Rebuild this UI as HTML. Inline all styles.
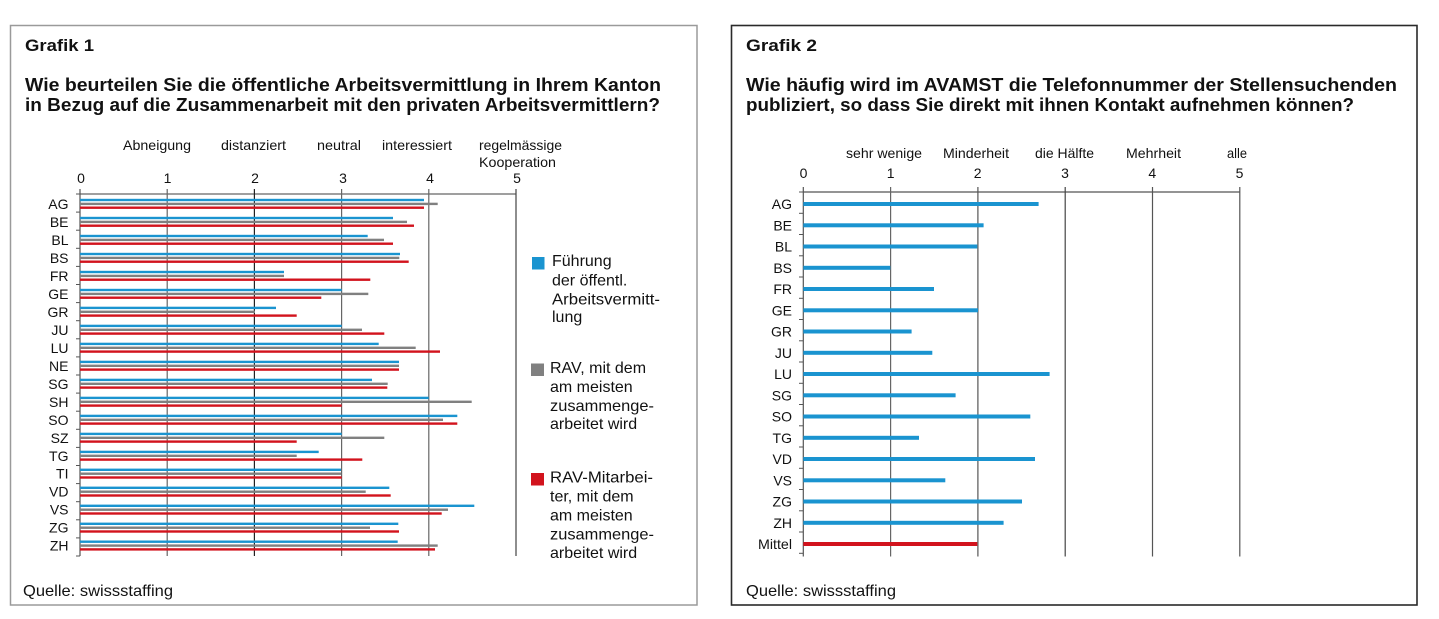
<!DOCTYPE html>
<html><head><meta charset="utf-8"><style>
html,body{margin:0;padding:0;background:#fff;}
svg{display:block;}
text{font-family:"Liberation Sans",Arial,sans-serif;fill:#111;}
.b{font-weight:bold;}
</style></head><body>
<svg width="1439" height="619" viewBox="0 0 1439 619" xmlns="http://www.w3.org/2000/svg">
<rect x="0" y="0" width="1439" height="619" fill="#fff"/>
<!-- Boxes -->
<rect x="10.5" y="25.5" width="686.5" height="579.5" fill="none" stroke="#9a9a9a" stroke-width="1.5"/>
<rect x="731.5" y="25.5" width="685.5" height="579.5" fill="none" stroke="#2a2a2a" stroke-width="1.6"/>

<!-- ===== Grafik 1 ===== -->
<text class="b" x="25" y="51" font-size="17" textLength="69" lengthAdjust="spacingAndGlyphs">Grafik 1</text>
<text class="b" x="25" y="91" font-size="18" textLength="636" lengthAdjust="spacingAndGlyphs">Wie beurteilen Sie die öffentliche Arbeitsvermittlung in Ihrem Kanton</text>
<text class="b" x="25" y="111" font-size="18" textLength="635" lengthAdjust="spacingAndGlyphs">in Bezug auf die Zusammenarbeit mit den privaten Arbeitsvermittlern?</text>

<g font-size="14">
<text x="123" y="150" textLength="68" lengthAdjust="spacingAndGlyphs">Abneigung</text>
<text x="221" y="150" textLength="65" lengthAdjust="spacingAndGlyphs">distanziert</text>
<text x="317" y="150" textLength="44" lengthAdjust="spacingAndGlyphs">neutral</text>
<text x="382" y="150" textLength="70" lengthAdjust="spacingAndGlyphs">interessiert</text>
<text x="479" y="150" textLength="83" lengthAdjust="spacingAndGlyphs">regelmässige</text>
<text x="479" y="167" textLength="77" lengthAdjust="spacingAndGlyphs">Kooperation</text>
</g>
<g font-size="14" text-anchor="middle">
<text x="81" y="183">0</text>
<text x="167.5" y="183">1</text>
<text x="255" y="183">2</text>
<text x="343" y="183">3</text>
<text x="430" y="183">4</text>
<text x="517" y="183">5</text>
</g>

<!-- grid -->
<g stroke-width="1.2">
<line x1="80" y1="194" x2="516" y2="194" stroke="#666"/>
<line x1="80" y1="189" x2="80" y2="556" stroke="#555"/>
<line x1="167.2" y1="189" x2="167.2" y2="556" stroke="#666"/>
<line x1="254.4" y1="189" x2="254.4" y2="556" stroke="#222"/>
<line x1="341.6" y1="189" x2="341.6" y2="556" stroke="#666"/>
<line x1="428.8" y1="189" x2="428.8" y2="556" stroke="#666"/>
<line x1="516" y1="189" x2="516" y2="556" stroke="#444"/>
</g>
<g stroke="#555" stroke-width="1">
<line x1="76" y1="194" x2="80" y2="194"/>
<line x1="76" y1="212.1" x2="80" y2="212.1"/>
<line x1="76" y1="230.2" x2="80" y2="230.2"/>
<line x1="76" y1="248.3" x2="80" y2="248.3"/>
<line x1="76" y1="266.4" x2="80" y2="266.4"/>
<line x1="76" y1="284.5" x2="80" y2="284.5"/>
<line x1="76" y1="302.6" x2="80" y2="302.6"/>
<line x1="76" y1="320.7" x2="80" y2="320.7"/>
<line x1="76" y1="338.8" x2="80" y2="338.8"/>
<line x1="76" y1="356.9" x2="80" y2="356.9"/>
<line x1="76" y1="375" x2="80" y2="375"/>
<line x1="76" y1="393.1" x2="80" y2="393.1"/>
<line x1="76" y1="411.2" x2="80" y2="411.2"/>
<line x1="76" y1="429.3" x2="80" y2="429.3"/>
<line x1="76" y1="447.4" x2="80" y2="447.4"/>
<line x1="76" y1="465.5" x2="80" y2="465.5"/>
<line x1="76" y1="483.6" x2="80" y2="483.6"/>
<line x1="76" y1="501.7" x2="80" y2="501.7"/>
<line x1="76" y1="519.8" x2="80" y2="519.8"/>
<line x1="76" y1="537.9" x2="80" y2="537.9"/>
<line x1="76" y1="556" x2="80" y2="556"/>
</g>

<!-- Bars Grafik 1 -->
<g id="bars1">
<!-- k=0 AG y blue=200 -->
<rect x="80" y="198.8" width="344" height="2.4" fill="#1a94d0"/><rect x="80" y="202.7" width="357.7" height="2.4" fill="#808080"/><rect x="80" y="206.5" width="344" height="2.4" fill="#d2131d"/>
<rect x="80" y="216.8" width="313" height="2.4" fill="#1a94d0"/><rect x="80" y="220.7" width="327" height="2.4" fill="#808080"/><rect x="80" y="224.5" width="334" height="2.4" fill="#d2131d"/>
<rect x="80" y="234.8" width="287.7" height="2.4" fill="#1a94d0"/><rect x="80" y="238.7" width="304" height="2.4" fill="#808080"/><rect x="80" y="242.5" width="313" height="2.4" fill="#d2131d"/>
<rect x="80" y="252.8" width="320" height="2.4" fill="#1a94d0"/><rect x="80" y="256.7" width="319.3" height="2.4" fill="#808080"/><rect x="80" y="260.5" width="328.7" height="2.4" fill="#d2131d"/>
<rect x="80" y="270.8" width="204" height="2.4" fill="#1a94d0"/><rect x="80" y="274.7" width="204" height="2.4" fill="#808080"/><rect x="80" y="278.5" width="290.3" height="2.4" fill="#d2131d"/>
<rect x="80" y="288.8" width="261.7" height="2.4" fill="#1a94d0"/><rect x="80" y="292.7" width="288.3" height="2.4" fill="#808080"/><rect x="80" y="296.5" width="241.3" height="2.4" fill="#d2131d"/>
<rect x="80" y="306.7" width="196" height="2.4" fill="#1a94d0"/><rect x="80" y="310.6" width="175" height="2.4" fill="#808080"/><rect x="80" y="314.4" width="216.7" height="2.4" fill="#d2131d"/>
<rect x="80" y="324.7" width="261.7" height="2.4" fill="#1a94d0"/><rect x="80" y="328.6" width="282" height="2.4" fill="#808080"/><rect x="80" y="332.4" width="304.3" height="2.4" fill="#d2131d"/>
<rect x="80" y="342.7" width="298.7" height="2.4" fill="#1a94d0"/><rect x="80" y="346.6" width="335.7" height="2.4" fill="#808080"/><rect x="80" y="350.4" width="360" height="2.4" fill="#d2131d"/>
<rect x="80" y="360.7" width="319" height="2.4" fill="#1a94d0"/><rect x="80" y="364.6" width="319" height="2.4" fill="#808080"/><rect x="80" y="368.4" width="319" height="2.4" fill="#d2131d"/>
<rect x="80" y="378.7" width="292" height="2.4" fill="#1a94d0"/><rect x="80" y="382.6" width="307.7" height="2.4" fill="#808080"/><rect x="80" y="386.4" width="307.3" height="2.4" fill="#d2131d"/>
<rect x="80" y="396.7" width="348.7" height="2.4" fill="#1a94d0"/><rect x="80" y="400.6" width="391.7" height="2.4" fill="#808080"/><rect x="80" y="404.4" width="261.7" height="2.4" fill="#d2131d"/>
<rect x="80" y="414.7" width="377.3" height="2.4" fill="#1a94d0"/><rect x="80" y="418.6" width="363" height="2.4" fill="#808080"/><rect x="80" y="422.4" width="377.3" height="2.4" fill="#d2131d"/>
<rect x="80" y="432.7" width="261.7" height="2.4" fill="#1a94d0"/><rect x="80" y="436.6" width="304.3" height="2.4" fill="#808080"/><rect x="80" y="440.4" width="216.7" height="2.4" fill="#d2131d"/>
<rect x="80" y="450.7" width="238.7" height="2.4" fill="#1a94d0"/><rect x="80" y="454.6" width="216.7" height="2.4" fill="#808080"/><rect x="80" y="458.4" width="282.3" height="2.4" fill="#d2131d"/>
<rect x="80" y="468.6" width="261" height="2.4" fill="#1a94d0"/><rect x="80" y="472.5" width="261" height="2.4" fill="#808080"/><rect x="80" y="476.3" width="261.7" height="2.4" fill="#d2131d"/>
<rect x="80" y="486.6" width="309.3" height="2.4" fill="#1a94d0"/><rect x="80" y="490.5" width="285.7" height="2.4" fill="#808080"/><rect x="80" y="494.3" width="310.7" height="2.4" fill="#d2131d"/>
<rect x="80" y="504.6" width="394.3" height="2.4" fill="#1a94d0"/><rect x="80" y="508.5" width="368" height="2.4" fill="#808080"/><rect x="80" y="512.3" width="361.7" height="2.4" fill="#d2131d"/>
<rect x="80" y="522.6" width="318.3" height="2.4" fill="#1a94d0"/><rect x="80" y="526.5" width="290" height="2.4" fill="#808080"/><rect x="80" y="530.3" width="319" height="2.4" fill="#d2131d"/>
<rect x="80" y="540.5" width="317.7" height="2.4" fill="#1a94d0"/><rect x="80" y="544.4" width="357.7" height="2.4" fill="#808080"/><rect x="80" y="548.2" width="355" height="2.4" fill="#d2131d"/>
</g>

<g font-size="14" text-anchor="end">
<text x="68.5" y="208.9">AG</text>
<text x="68.5" y="226.9">BE</text>
<text x="68.5" y="244.9">BL</text>
<text x="68.5" y="262.9">BS</text>
<text x="68.5" y="280.9">FR</text>
<text x="68.5" y="298.9">GE</text>
<text x="68.5" y="316.8">GR</text>
<text x="68.5" y="334.8">JU</text>
<text x="68.5" y="352.8">LU</text>
<text x="68.5" y="370.8">NE</text>
<text x="68.5" y="388.8">SG</text>
<text x="68.5" y="406.8">SH</text>
<text x="68.5" y="424.8">SO</text>
<text x="68.5" y="442.8">SZ</text>
<text x="68.5" y="460.8">TG</text>
<text x="68.5" y="478.7">TI</text>
<text x="68.5" y="496.7">VD</text>
<text x="68.5" y="514.7">VS</text>
<text x="68.5" y="532.7">ZG</text>
<text x="68.5" y="550.7">ZH</text>
</g>

<!-- legend -->
<rect x="532" y="257" width="12.5" height="12.5" fill="#1a94d0"/>
<rect x="531" y="363.5" width="13" height="12.5" fill="#808080"/>
<rect x="531" y="473" width="13" height="12.5" fill="#d2131d"/>
<g font-size="16">
<text x="552" y="266">Führung</text>
<text x="552" y="285.5">der öffentl.</text>
<text x="552" y="304.5" textLength="108" lengthAdjust="spacingAndGlyphs">Arbeitsvermitt-</text>
<text x="552" y="322">lung</text>
<text x="550" y="373">RAV, mit dem</text>
<text x="550" y="392">am meisten</text>
<text x="550" y="411" textLength="104" lengthAdjust="spacingAndGlyphs">zusammenge-</text>
<text x="550" y="429">arbeitet wird</text>
<text x="550" y="482.5" textLength="103" lengthAdjust="spacingAndGlyphs">RAV-Mitarbei-</text>
<text x="550" y="501.5">ter, mit dem</text>
<text x="550" y="520.5">am meisten</text>
<text x="550" y="539.5" textLength="104" lengthAdjust="spacingAndGlyphs">zusammenge-</text>
<text x="550" y="558">arbeitet wird</text>
</g>

<text x="23" y="596" font-size="16" textLength="150" lengthAdjust="spacingAndGlyphs">Quelle: swissstaffing</text>

<!-- ===== Grafik 2 ===== -->
<text class="b" x="746" y="51" font-size="17" textLength="71" lengthAdjust="spacingAndGlyphs">Grafik 2</text>
<text class="b" x="746" y="91" font-size="18" textLength="651" lengthAdjust="spacingAndGlyphs">Wie häufig wird im AVAMST die Telefonnummer der Stellensuchenden</text>
<text class="b" x="746" y="111" font-size="18" textLength="608" lengthAdjust="spacingAndGlyphs">publiziert, so dass Sie direkt mit ihnen Kontakt aufnehmen können?</text>

<g font-size="14">
<text x="846" y="158" textLength="76" lengthAdjust="spacingAndGlyphs">sehr wenige</text>
<text x="943" y="158" textLength="66" lengthAdjust="spacingAndGlyphs">Minderheit</text>
<text x="1035" y="158" textLength="59" lengthAdjust="spacingAndGlyphs">die Hälfte</text>
<text x="1126" y="158" textLength="55" lengthAdjust="spacingAndGlyphs">Mehrheit</text>
<text x="1227" y="158" textLength="20" lengthAdjust="spacingAndGlyphs">alle</text>
</g>
<g font-size="14" text-anchor="middle">
<text x="803.5" y="178">0</text>
<text x="890.7" y="178">1</text>
<text x="977.7" y="178">2</text>
<text x="1065" y="178">3</text>
<text x="1152.3" y="178">4</text>
<text x="1239.5" y="178">5</text>
</g>

<g stroke-width="1.2">
<line x1="803.3" y1="192" x2="1240" y2="192" stroke="#555"/>
<line x1="803.3" y1="187" x2="803.3" y2="556.5" stroke="#555"/>
<line x1="890.6" y1="187" x2="890.6" y2="556.5" stroke="#666"/>
<line x1="977.9" y1="187" x2="977.9" y2="556.5" stroke="#555"/>
<line x1="1065.2" y1="187" x2="1065.2" y2="556.5" stroke="#444"/>
<line x1="1152.5" y1="187" x2="1152.5" y2="556.5" stroke="#555"/>
<line x1="1239.8" y1="187" x2="1239.8" y2="556.5" stroke="#555"/>
</g>
<g stroke="#555" stroke-width="1">
<line x1="799" y1="192" x2="803" y2="192"/>
<line x1="799" y1="213.3" x2="803" y2="213.3"/>
<line x1="799" y1="234.5" x2="803" y2="234.5"/>
<line x1="799" y1="255.8" x2="803" y2="255.8"/>
<line x1="799" y1="277" x2="803" y2="277"/>
<line x1="799" y1="298.3" x2="803" y2="298.3"/>
<line x1="799" y1="319.5" x2="803" y2="319.5"/>
<line x1="799" y1="340.8" x2="803" y2="340.8"/>
<line x1="799" y1="362" x2="803" y2="362"/>
<line x1="799" y1="383.3" x2="803" y2="383.3"/>
<line x1="799" y1="404.5" x2="803" y2="404.5"/>
<line x1="799" y1="425.8" x2="803" y2="425.8"/>
<line x1="799" y1="447" x2="803" y2="447"/>
<line x1="799" y1="468.3" x2="803" y2="468.3"/>
<line x1="799" y1="489.5" x2="803" y2="489.5"/>
<line x1="799" y1="510.8" x2="803" y2="510.8"/>
<line x1="799" y1="532" x2="803" y2="532"/>
<line x1="799" y1="553.3" x2="803" y2="553.3"/>
</g>

<g fill="#1a94d0">
<rect x="803.3" y="202" width="235.3" height="4"/>
<rect x="803.3" y="223.3" width="180.3" height="4"/>
<rect x="803.3" y="244.5" width="174" height="4"/>
<rect x="803.3" y="265.8" width="87" height="4"/>
<rect x="803.3" y="287" width="130.7" height="4"/>
<rect x="803.3" y="308.3" width="174.7" height="4"/>
<rect x="803.3" y="329.5" width="108.3" height="4"/>
<rect x="803.3" y="350.8" width="129" height="4"/>
<rect x="803.3" y="372" width="246.3" height="4"/>
<rect x="803.3" y="393.3" width="152.3" height="4"/>
<rect x="803.3" y="414.5" width="227" height="4"/>
<rect x="803.3" y="435.8" width="115.7" height="4"/>
<rect x="803.3" y="457" width="231.7" height="4"/>
<rect x="803.3" y="478.3" width="142" height="4"/>
<rect x="803.3" y="499.5" width="218.7" height="4"/>
<rect x="803.3" y="520.8" width="200.3" height="4"/>
</g>
<rect x="803.3" y="542" width="174" height="4" fill="#d2131d"/>

<g font-size="14" text-anchor="end">
<text x="792" y="209">AG</text>
<text x="792" y="230.3">BE</text>
<text x="792" y="251.5">BL</text>
<text x="792" y="272.8">BS</text>
<text x="792" y="294">FR</text>
<text x="792" y="315.3">GE</text>
<text x="792" y="336.5">GR</text>
<text x="792" y="357.8">JU</text>
<text x="792" y="379">LU</text>
<text x="792" y="400.3">SG</text>
<text x="792" y="421.5">SO</text>
<text x="792" y="442.8">TG</text>
<text x="792" y="464">VD</text>
<text x="792" y="485.3">VS</text>
<text x="792" y="506.5">ZG</text>
<text x="792" y="527.8">ZH</text>
<text x="792" y="549" textLength="34" lengthAdjust="spacingAndGlyphs">Mittel</text>
</g>

<text x="746" y="596" font-size="16" textLength="150" lengthAdjust="spacingAndGlyphs">Quelle: swissstaffing</text>
</svg>
</body></html>
